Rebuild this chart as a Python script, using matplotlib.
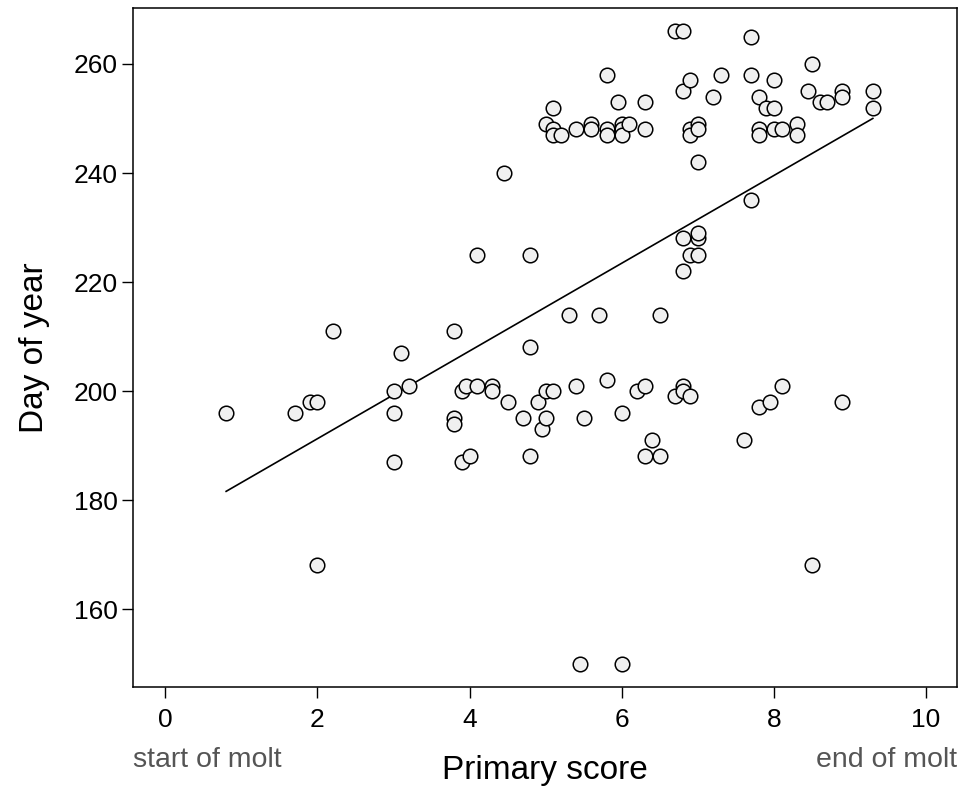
import numpy as np
import matplotlib
matplotlib.use("Agg")
import matplotlib.pyplot as plt

# primary score vs day of year
score = [0.8, 1.7, 1.9, 2.0, 2.0, 2.2, 3.0, 3.0, 3.0, 3.1, 3.2, 3.8, 3.8, 3.8,
         3.9, 3.9, 3.95, 4.0, 4.1, 4.1, 4.3, 4.3, 4.45, 4.5, 4.7, 4.8, 4.8, 4.8,
         4.9, 4.95, 5.0, 5.0, 5.1, 5.3, 5.4, 5.45, 5.5, 5.7, 5.8, 6.0, 6.0, 6.2,
         6.3, 6.3, 6.4, 6.5, 6.5, 6.7, 6.8, 6.8, 6.9, 6.8, 6.8, 6.9, 7.0, 7.0,
         7.0, 7.6, 7.7, 7.8, 7.95, 8.1, 8.5, 8.9,
         5.0, 5.1, 5.1, 5.1, 5.2, 5.4, 5.6, 5.6, 5.8, 5.8, 5.8, 5.95, 6.0, 6.0,
         6.0, 6.1, 6.3, 6.3, 6.7, 6.8, 6.8, 6.9, 6.9, 6.9, 7.0, 7.0, 7.0, 7.2,
         7.3, 7.7, 7.7, 7.8, 7.8, 7.8, 7.9, 8.0, 8.0, 8.0, 8.1, 8.3, 8.3, 8.45,
         8.5, 8.6, 8.7, 8.9, 8.9, 9.3, 9.3]
day = [196, 196, 198, 198, 168, 211, 200, 196, 187, 207, 201, 211, 195, 194,
       200, 187, 201, 188, 201, 225, 201, 200, 240, 198, 195, 225, 208, 188,
       198, 193, 200, 195, 200, 214, 201, 150, 195, 214, 202, 196, 150, 200,
       201, 188, 191, 188, 214, 199, 201, 200, 199, 228, 222, 225, 225, 228,
       229, 191, 235, 197, 198, 201, 168, 198,
       249, 252, 248, 247, 247, 248, 249, 248, 258, 248, 247, 253, 249, 248,
       247, 249, 253, 248, 266, 266, 255, 257, 248, 247, 249, 248, 242, 254,
       258, 265, 258, 254, 248, 247, 252, 257, 252, 248, 248, 249, 247, 255,
       260, 253, 253, 255, 254, 255, 252]

# fitted regression line
fit_intercept = 175.15
fit_slope = 8.05

x_ticks = [0, 2, 4, 6, 8, 10]
y_ticks = [160, 180, 200, 220, 240, 260]

plt.rcParams['font.family'] = ['Liberation Sans', 'DejaVu Sans']

fig = plt.figure(figsize=(9.66, 7.86), dpi=100)
ax = fig.add_axes([0.138, 0.126, 0.853, 0.864])

ax.scatter(score, day, s=110, facecolor='#f0f0f0', edgecolor='black',
           linewidth=1.1, zorder=3)

xs = np.array([min(score), max(score)])
ax.plot(xs, fit_intercept + fit_slope * xs, color='black', linewidth=1.2, zorder=2)

ax.set_xlim(-0.42, 10.41)
ax.set_ylim(145.7, 270.3)
ax.set_xticks(x_ticks)
ax.set_yticks(y_ticks)
ax.tick_params(axis='both', direction='out', length=8, width=1, labelsize=19)
ax.tick_params(axis='x', pad=7)
ax.tick_params(axis='y', pad=3)
for sp in ax.spines.values():
    sp.set_linewidth(1.1)

ax.set_ylabel('Day of year', fontsize=24, labelpad=17)
ax.set_xlabel('Primary score', fontsize=24, labelpad=17)

fig.text(0.138, 0.016, 'start of molt', fontsize=20.5, color='#555555',
         ha='left', va='bottom')
fig.text(0.991, 0.016, 'end of molt', fontsize=20.5, color='#555555',
         ha='right', va='bottom')

fig.savefig('out.png', dpi=100)
